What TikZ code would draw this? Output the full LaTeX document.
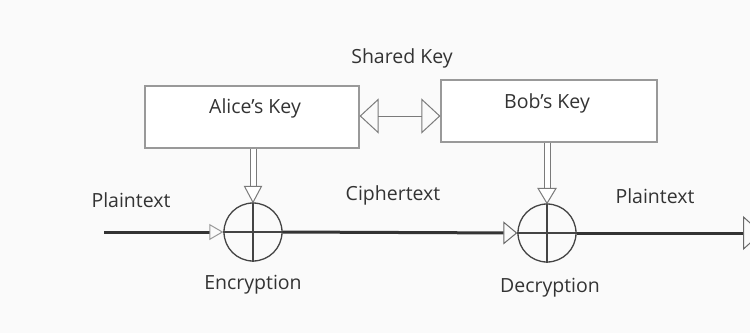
\documentclass[tikz,border=0pt]{standalone}
\usepackage{fontspec}
\setmainfont{Open Sans}
\usetikzlibrary{arrows.meta,calc}
\definecolor{bg}{HTML}{FAFAFA}
\definecolor{ink}{HTML}{333333}
\definecolor{boxline}{HTML}{999999}
\definecolor{ringline}{HTML}{444444}
\tikzset{
  keybox/.style={draw=boxline, line width=1.2pt, fill=white, minimum width=214pt, minimum height=62pt, inner sep=0pt},
  xorring/.style={circle, draw=ringline, line width=1.3pt, minimum size=58pt, inner sep=0pt},
  lbl/.style={text=ink, font=\fontsize{19.5}{22}\selectfont, inner sep=0pt},
  flow/.style={draw=ink, line width=3pt},
  thinline/.style={draw=boxline!80!black, line width=1pt},
}
\begin{document}
\begin{tikzpicture}[x=1pt,y=-1pt]
\useasboundingbox[fill=bg] (0,0) rectangle (750,333);
% key boxes
\node[keybox] (alice) at (252,117) {};
\node[keybox, minimum width=216pt] (bob) at (549,111) {};
\node[lbl] (alicet) at (255,108) {Alice's Key};
\node[lbl] (bobt) at (547,103) {Bob's Key};
\node[lbl] (shared) at (402,58) {Shared Key};
% xor rings
\node[xorring] (enc) at (253,232) {};
\node[xorring] (dec) at (547,233) {};
\draw[ringline, line width=1.3pt] (enc.north) -- (enc.south) (enc.west) -- (enc.east);
\draw[ringline, line width=1.3pt] (dec.north) -- (dec.south) (dec.west) -- (dec.east);
% labels
\node[lbl] (pt1) at (131,200) {Plaintext};
\node[lbl] (ct) at (393,195) {Ciphertext};
\node[lbl] (pt2) at (655,196) {Plaintext};
\node[lbl] (enct) at (253,285) {Encryption};
\node[lbl] (dect) at (550,288) {Decryption};
% shared key double arrow
\draw[thinline, {Triangle[open, length=19pt, width=35pt, line width=1pt]}-{Triangle[open, length=19pt, width=35pt, line width=1pt]}]
  (alice.east |- 0,116) -- (bob.west |- 0,116);
% key to ring arrows (double shaft, open head)
\coordinate (ebase) at ($(enc.north)+(0,-16)$);
\coordinate (dbase) at ($(dec.north)+(0,-15)$);
\draw[thinline, double=white, double distance=5pt] (alice.south -| enc.north) -- (ebase);
\draw[thinline, fill=white] ($(ebase)+(-8.5,0)$) -- (enc.north) -- ($(ebase)+(8.5,0)$) -- cycle;
\draw[thinline, double=white, double distance=5pt] (bob.south -| dec.north) -- (dbase);
\draw[thinline, fill=white] ($(dbase)+(-9,0)$) -- (dec.north) -- ($(dbase)+(9,0)$) -- cycle;
% flow lines
\coordinate (start) at (104,232);
\coordinate (finish) at (762,233);
\draw[flow, -{Triangle[open, length=14pt, width=16pt, line width=1pt, color=boxline]}] (start) -- (enc.west);
\draw[flow, -{Triangle[open, length=14pt, width=23pt, line width=1pt, color=ringline!80]}] (enc.east) -- (dec.west);
\draw[flow, -{Triangle[open, length=19pt, width=34pt, line width=1pt, color=ringline!80]}] (dec.east) -- (finish);
\end{tikzpicture}
\end{document}
